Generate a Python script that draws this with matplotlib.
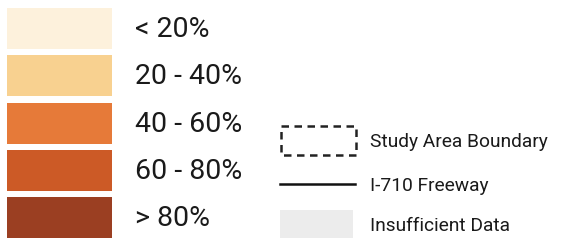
import matplotlib.pyplot as plt
from matplotlib.patches import Rectangle

# legend classes
class_labels = ["< 20%", "20 - 40%", "40 - 60%", "60 - 80%", "> 80%"]
class_colors = ["#fdf1dc", "#f8d190", "#e67a39", "#cc5a26", "#9b3f22"]

other_labels = ["Study Area Boundary", "I-710 Freeway", "Insufficient Data"]
insufficient_color = "#ececec"

plt.rcParams["font.family"] = ["Roboto", "DejaVu Sans"]

fig = plt.figure(figsize=(5.64, 2.46), dpi=100)
ax = fig.add_axes([0, 0, 1, 1])
ax.set_xlim(0, 564)
ax.set_ylim(246, 0)
ax.axis("off")

# colour swatches (pixel coordinates)
row_top = 8
row_step = 47.3
sw_h = 41
for i, (lab, col) in enumerate(zip(class_labels, class_colors)):
    y = row_top + i * row_step
    ax.barh(y + sw_h / 2, 105, height=sw_h, left=7, color=col)
    ax.text(135, y + sw_h / 2 + 1, lab, fontsize=20.5, ha="left", va="center",
            color="#1a1a1a")

# right side legend
ax.add_patch(Rectangle((281, 126), 75, 29, fill=False, edgecolor="#222222",
                       linewidth=1.8, linestyle=(0, (3, 2.2))))
ax.text(370, 142, other_labels[0], fontsize=13.8, ha="left", va="center",
        color="#1a1a1a")

ax.plot([280, 355], [184, 184], color="#111111", linewidth=1.8)
ax.text(370, 186, other_labels[1], fontsize=13.8, ha="left", va="center",
        color="#1a1a1a")

ax.add_patch(Rectangle((280, 210), 73, 28, facecolor=insufficient_color, edgecolor="none"))
ax.text(370, 226, other_labels[2], fontsize=13.8, ha="left", va="center",
        color="#1a1a1a")

fig.savefig("out.png", dpi=100)
plt.close(fig)
